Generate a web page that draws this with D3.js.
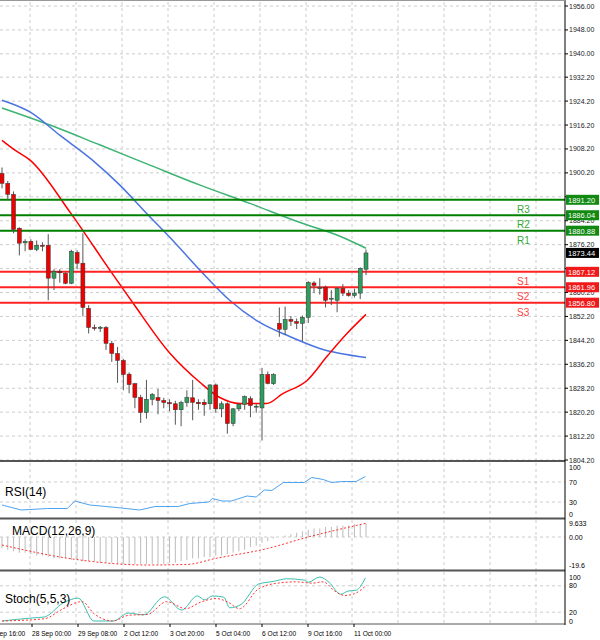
<!DOCTYPE html>
<html><head><meta charset="utf-8">
<script src="https://cdn.jsdelivr.net/npm/d3@7"></script>
<style>body{margin:0;background:#fff}svg{display:block;font-family:"Liberation Sans",Arial,sans-serif}</style>
</head><body><svg id="c" width="600" height="640"></svg>
<script>
// candles: [open, high, low, close]
const candles = [
[1900,1902,1895,1896.7],[1896.7,1897.5,1891,1893],[1893,1894,1880,1881.3],[1881.7,1882,1872.6,1876.7],
[1876.8,1878,1874,1877.3],[1877.3,1878,1874.5,1874.6],[1874.6,1877.6,1874,1876],[1876,1877,1874,1875.7],
[1876,1879.7,1857.6,1865],[1865,1868,1861,1867.3],[1867.3,1868,1863.5,1866.8],[1866.6,1867,1863,1863.3],
[1863.3,1874.5,1863,1874],[1873.6,1874.3,1868,1870],[1870,1880,1852.2,1855.2],[1854.9,1856,1846.5,1848.5],
[1848.5,1849.5,1847.5,1848.3],[1848.2,1849,1847,1848.6],[1848.5,1849,1841,1843.2],[1843.2,1844,1837,1839.8],
[1839.8,1842,1830,1837.5],[1837.5,1838,1827.5,1832.8],[1832.9,1833.5,1826.5,1829.4],[1829.7,1830,1821.5,1825.1],
[1825.1,1826,1816.6,1820.1],[1820.1,1831,1818,1824.5],[1824.5,1826.6,1822.5,1826.1],[1825.1,1828,1819.5,1824.1],
[1824.1,1825,1821.5,1823.4],[1823.4,1824.5,1820.5,1823],[1823,1824,1816,1821],[1821,1824,1815.5,1823.4],[1823.4,1827.5,1822,1825.1],
[1825,1831,1817.5,1823.5],[1823.5,1824.5,1821,1823],[1823.5,1824.5,1819,1822.7],
[1823,1829.5,1821,1829.3],[1829.3,1829.8,1820,1821.3],[1821.3,1823.8,1818.5,1823],[1823,1823.5,1813,1816.4],
[1816.4,1821.6,1815.5,1821.3],[1821.3,1823.2,1820.5,1822.8],[1822.8,1825.8,1821,1825.4],[1824.7,1825.5,1818.5,1822.4],
[1822,1823,1820,1822.2],[1821.6,1835,1810.7,1832.8],[1832.8,1833.8,1829.5,1829.8],[1829.7,1833.2,1829.3,1832.8],
[1849.9,1855.2,1845.4,1847.9],[1847.9,1855.5,1846,1851.2],[1851.2,1852.3,1849,1850.6],[1850.5,1851.5,1848,1849.9],
[1849.9,1852.5,1844,1851.9],[1851.9,1864,1850,1863.6],[1863.4,1864,1860,1862.6],[1861.5,1865,1859.5,1861.8],
[1862,1862.5,1855.2,1857.6],[1858,1861,1856,1858.3],[1857.6,1862,1853.6,1861.6],[1861.6,1863,1859,1860],
[1860,1861,1858.8,1859.2],[1859.2,1861.5,1858.5,1860],[1860,1868.6,1858,1868.3],[1868,1874.6,1866,1873.44]
];
// moving averages: [candle index, value]
const maSlow = [[0,1921.9],[8.3,1916.2],[17,1909.5],[25.6,1902.8],[34.3,1896.1],[42.9,1890],[51.6,1883.6],[58.5,1879],[63,1875]];
const maMid = [[0,1924.5],[4.9,1920.5],[10,1912.8],[15.7,1904.4],[20.4,1896.1],[25,1886.7],[30,1876.7],[34.3,1867.6],[39.4,1857.6],[44.6,1850.2],[49.8,1845.5],[55,1841.5],[63,1838.5]];
const maFast = [[0,1911.1],[2.25,1907.8],[4.9,1904.4],[11.8,1887],[18.7,1867.6],[22.7,1856.6],[29.1,1839.8],[34.3,1830.1],[37.7,1825.1],[41.2,1823.1],[45.8,1823.1],[48.6,1826.4],[52.8,1830.8],[56.4,1839.2],[59.7,1846.5],[63,1852.9]];
const levelNames = ["R3","R2","R1","S1","S2","S3"];
const levelValues = [1891.20,1886.04,1880.88,1867.12,1861.96,1856.80];
const priceTicks = [1956.00,1948.00,1940.00,1932.20,1924.20,1916.20,1908.20,1900.20,1892.20,1884.20,1876.20,1868.20,1860.20,1852.20,1844.20,1836.20,1828.20,1820.20,1812.20,1804.20];
const timeLabels = ["27 Sep 16:00","28 Sep 00:00","29 Sep 08:00","2 Oct 12:00","3 Oct 20:00","5 Oct 04:00","6 Oct 12:00","9 Oct 16:00","11 Oct 00:00"];
const rsi = [[0,24],[3.3,14],[7.9,17],[11.3,17],[12.6,32],[15.2,24],[19.9,19],[23.8,14],[26.5,21],[30.5,21],[32.5,27],[35.8,30],[36.4,37],[38.1,32],[39.7,32],[42.4,42],[44,40],[45.4,54],[46.7,53],[48.7,69],[52.3,69],[53.6,79],[55.6,75],[57,69],[58.9,71],[61.3,71],[62.9,81]];
const macdHist = [-8,-9,-10,-11,-11,-12,-13,-13,-14,-15,-15,-15,-16,-16,-17,-17,-17,-18,-18,-18,-19,-19,-19,-19,-19,-19,-19,-19,-19,-18,-18,-17,-16,-15,-15,-14,-14,-13,-13,-12,-11,-10,-9,-7,-6,-4,-3,-1,0,1,2,3,4,5,6,6,7,7,8,8,8,9,9,9.6];
const macdSignal = [[0,-5.6],[12.6,-15.6],[25,-19.6],[32,-19.2],[37,-15],[46,-8],[53,0],[58,5],[63,9.6]];
const stochMain = [[0,0],[5.3,7],[7.3,9],[10.6,41],[13.2,52],[15.9,0],[19.2,0],[21.9,18],[24.5,14],[28.1,55],[31.1,25],[33.8,57],[35.1,48],[36.4,57],[38.4,54],[39.4,30],[41.4,38],[44.4,84],[47,90],[49.3,96],[52.3,93],[53,88],[55,100],[56.6,88],[58.6,61],[59.9,68],[61.3,70],[62.9,98]];
const stochSignal = [[0,0],[7.3,5],[10.6,28],[13.2,43],[13.9,44],[15.9,17],[19.2,0],[21.9,13],[25.2,15],[28.5,44],[31.8,28],[34.4,43],[37.1,51],[39.1,43],[41.1,28],[44.4,73],[47.7,86],[51,89],[53.6,86],[55.6,89],[57.6,68],[59.3,58],[61,62],[62.9,79]];

const svg = d3.select("#c");
const AX = 565;
const last = candles.length-1;
const x = d3.scaleLinear().domain([0,63]).range([2,366]);
const y = d3.scaleLinear().domain([1804.2,1956]).range([460,6]);
const yR = d3.scaleLinear().domain([0,100]).range([517,467]);
const yM = d3.scaleLinear().domain([-19.6,0]).range([565,537]);
const yS = d3.scaleLinear().domain([0,100]).range([621,577]);
const gridX = d3.range(12).map(i=>30+46*i);
const grid = (y0,y1,ys)=>{
  gridX.forEach(gx=>svg.append("line").attr("x1",gx).attr("x2",gx).attr("y1",y0).attr("y2",y1).attr("stroke","#ccc").attr("stroke-dasharray","3,3"));
  ys.forEach(v=>svg.append("line").attr("x1",0).attr("x2",AX).attr("y1",v).attr("y2",v).attr("stroke","#ccc").attr("stroke-dasharray","3,3"));
};
grid(2,461,priceTicks.map(y));
grid(463,518,[70,30].map(yR));
grid(520,570,[yM(0)]);
grid(572,624,[80,20].map(yS));
const boxVals = levelValues.concat([candles[last][3]]);
// price labels
priceTicks.forEach(v=>{
  svg.append("line").attr("x1",AX).attr("x2",AX+3).attr("y1",y(v)).attr("y2",y(v)).attr("stroke","#000");
  if (boxVals.some(b=>Math.abs(y(b)-y(v))<4)) return;
  svg.append("text").attr("x",AX+4).attr("y",y(v)+2.5).attr("font-size",7).attr("fill","#222").text(v.toFixed(2));
});
// MAs
const ln = (s)=>d3.line().x(d=>x(d[0])).y(d=>s(d[1])).curve(d3.curveMonotoneX);
svg.append("path").attr("d",ln(y)(maSlow)).attr("fill","none").attr("stroke","#3cb371").attr("stroke-width",1.5);
svg.append("path").attr("d",ln(y)(maMid)).attr("fill","none").attr("stroke","#4a74e0").attr("stroke-width",1.5);
svg.append("path").attr("d",ln(y)(maFast)).attr("fill","none").attr("stroke","#f00").attr("stroke-width",1.5);
// levels
levelValues.forEach((v,i)=>{
  const r = levelNames[i][0]==="R";
  svg.append("line").attr("x1",0).attr("x2",AX).attr("y1",y(v)).attr("y2",y(v)).attr("stroke",r?"#008000":"#f22").attr("stroke-width",2);
  svg.append("text").attr("x",517).attr("y",y(v)+13).attr("font-size",10).attr("fill",r?"#3a3":"#f44").text(levelNames[i]);
});
// candles
const g = svg.append("g");
candles.forEach((c,i)=>{
  const up = c[3]>=c[0], cx = x(i);
  g.append("line").attr("x1",cx).attr("x2",cx).attr("y1",y(c[1])).attr("y2",y(c[2])).attr("stroke","#555");
  const t = y(Math.max(c[0],c[3])), b = y(Math.min(c[0],c[3]));
  g.append("rect").attr("x",cx-2).attr("y",t).attr("width",4).attr("height",Math.max(1,b-t))
    .attr("fill",up?"#2e9e5e":"#e00").attr("stroke","#333").attr("stroke-width",0.5);
});
// right boxes
const box=(v,col)=>{
  svg.append("rect").attr("x",AX+1).attr("y",y(v)-5).attr("width",33).attr("height",10).attr("fill",col);
  svg.append("text").attr("x",AX+3).attr("y",y(v)+3).attr("font-size",7.5).attr("fill","#fff").text(v.toFixed(2));
};
levelValues.forEach((v,i)=>box(v,levelNames[i][0]==="R"?"#128a12":"#f01818"));
box(candles[last][3],"#000");
// RSI
svg.append("path").attr("d",d3.line().x(d=>x(d[0])).y(d=>yR(d[1]))(rsi)).attr("fill","none").attr("stroke","#4da3f0").attr("stroke-width",1);
svg.append("text").attr("x",5).attr("y",496).attr("font-size",12).text("RSI(14)");
[[100,"100"],[70,"70"],[30,"30"],[0,"0"]].forEach(d=>svg.append("text").attr("x",AX+4).attr("y",Math.min(yR(d[0]),514)+2.5).attr("font-size",7).text(d[1]));
// MACD
macdHist.forEach((v,i)=>svg.append("line").attr("x1",x(i)).attr("x2",x(i)).attr("y1",yM(0)).attr("y2",yM(v)).attr("stroke","#bbb").attr("stroke-width",1));
svg.append("path").attr("d",ln(yM)(macdSignal)).attr("fill","none").attr("stroke","#f33").attr("stroke-width",1).attr("stroke-dasharray","2,2");
svg.append("text").attr("x",12).attr("y",535).attr("font-size",12).text("MACD(12,26,9)");
[[9.633,"9.633"],[0,"0.00"],[-19.6,"-19.6"]].forEach(d=>svg.append("text").attr("x",AX+4).attr("y",yM(d[0])+2.5).attr("font-size",7).text(d[1]));
// Stoch
svg.append("path").attr("d",ln(yS)(stochMain)).attr("fill","none").attr("stroke","#3cc0b0").attr("stroke-width",1);
svg.append("path").attr("d",ln(yS)(stochSignal)).attr("fill","none").attr("stroke","#f33").attr("stroke-width",1).attr("stroke-dasharray","2,2");
svg.append("text").attr("x",5).attr("y",603).attr("font-size",12).text("Stoch(5,5,3)");
[[100,"100"],[80,"80"],[20,"20"],[0,"0"]].forEach(d=>svg.append("text").attr("x",AX+4).attr("y",yS(d[0])+2.5).attr("font-size",7).text(d[1]));
// frame
[461,518.5,570.5,624].forEach(v=>svg.append("line").attr("x1",0).attr("x2",AX).attr("y1",v).attr("y2",v).attr("stroke","#555").attr("stroke-width",v===624?1:2));
svg.append("line").attr("x1",AX).attr("x2",AX).attr("y1",0).attr("y2",625).attr("stroke","#000");
svg.append("line").attr("x1",0).attr("x2",AX).attr("y1",0.5).attr("y2",0.5).attr("stroke","#999");
timeLabels.forEach((t,i)=>{
  const tx=-14+46*i;
  svg.append("line").attr("x1",tx).attr("x2",tx).attr("y1",624).attr("y2",627).attr("stroke","#000");
  svg.append("text").attr("x",tx).attr("y",636).attr("font-size",6.6).text(t);
});
</script></body></html>
